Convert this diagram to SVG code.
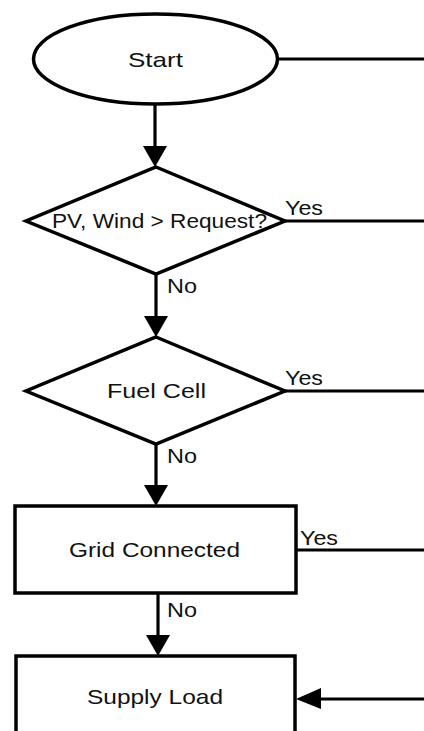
<svg xmlns="http://www.w3.org/2000/svg" width="424" height="731" viewBox="0 0 424 731">
<style>
.shape{fill:#fff;stroke:#000;stroke-width:3.5}
.line{fill:none;stroke:#000;stroke-width:3.2}
.head{fill:#000;stroke:none}
text{font-family:"Liberation Sans",Arial,sans-serif;font-size:21px;fill:#111}
</style>
<rect width="424" height="731" fill="#fff"/>
<g id="connectors">
<line class="line" x1="278" y1="59" x2="424" y2="59"/>
<line class="line" x1="155" y1="104" x2="155" y2="150"/>
<polygon class="head" points="143,146 167,146 155,167"/>
<line class="line" x1="285" y1="221" x2="424" y2="221"/>
<line class="line" x1="156" y1="274" x2="156" y2="318"/>
<polygon class="head" points="144,316 168,316 156,337"/>
<line class="line" x1="285" y1="391" x2="424" y2="391"/>
<line class="line" x1="156" y1="444" x2="156" y2="488"/>
<polygon class="head" points="144,485 168,485 156,506"/>
<line class="line" x1="296" y1="550" x2="424" y2="550"/>
<line class="line" x1="158" y1="593" x2="158" y2="638"/>
<polygon class="head" points="146,635 170,635 158,656"/>
<line class="line" x1="318" y1="699" x2="424" y2="699"/>
<polygon class="head" points="321,688 321,709 296,699"/>
<text x="285" y="215" textLength="38" lengthAdjust="spacingAndGlyphs">Yes</text>
<text x="167" y="293" textLength="30" lengthAdjust="spacingAndGlyphs">No</text>
<text x="285" y="385" textLength="38" lengthAdjust="spacingAndGlyphs">Yes</text>
<text x="167" y="463" textLength="30" lengthAdjust="spacingAndGlyphs">No</text>
<text x="300" y="545" textLength="38" lengthAdjust="spacingAndGlyphs">Yes</text>
<text x="167" y="617" textLength="30" lengthAdjust="spacingAndGlyphs">No</text>
</g>
<g id="start">
<ellipse class="shape" cx="155.5" cy="59" rx="122" ry="45"/>
<text x="128" y="67" textLength="55" lengthAdjust="spacingAndGlyphs">Start</text>
</g>
<g id="pv-wind">
<polygon class="shape" points="156,167 285,221 156,274 26,221"/>
<text x="52" y="228" textLength="215" lengthAdjust="spacingAndGlyphs">PV, Wind &gt; Request?</text>
</g>
<g id="fuel-cell">
<polygon class="shape" points="156,337 285,391 156,444 26,391"/>
<text x="107" y="398" textLength="99" lengthAdjust="spacingAndGlyphs">Fuel Cell</text>
</g>
<g id="grid-connected">
<rect class="shape" x="15" y="506" width="281" height="87"/>
<text x="69" y="557" textLength="171" lengthAdjust="spacingAndGlyphs">Grid Connected</text>
</g>
<g id="supply-load">
<rect class="shape" x="16" y="656" width="279" height="110"/>
<text x="87" y="704" textLength="136" lengthAdjust="spacingAndGlyphs">Supply Load</text>
</g>
</svg>
